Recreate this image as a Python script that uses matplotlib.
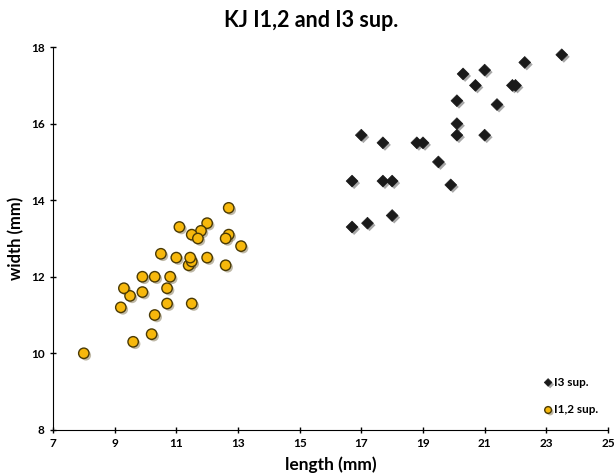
import matplotlib
matplotlib.use('Agg')
import matplotlib.pyplot as plt
import matplotlib.patheffects as pe
import numpy as np

plt.rcParams['font.family'] = ['Lato', 'DejaVu Sans']

# I3 sup. (black diamonds)
i3_len = [16.7, 17.2, 18.0, 16.7, 17.7, 18.0, 19.9, 19.5, 17.0, 17.7, 18.8, 19.0,
          20.1, 21.0, 20.1, 20.1, 21.4, 20.7, 21.9, 22.0, 20.3, 21.0, 22.3, 23.5]
i3_wid = [13.3, 13.4, 13.6, 14.5, 14.5, 14.5, 14.4, 15.0, 15.7, 15.5, 15.5, 15.5,
          15.7, 15.7, 16.0, 16.6, 16.5, 17.0, 17.0, 17.0, 17.3, 17.4, 17.6, 17.8]

# I1,2 sup. (yellow circles)
i12_len = [8.0, 9.6, 10.2, 10.3, 9.2, 10.7, 11.5, 9.5, 9.3, 9.9, 10.7, 9.9, 10.3, 10.8,
           12.6, 11.4, 11.5, 12.7, 11.1, 12.0, 11.8, 11.5, 11.7, 12.7, 12.6, 13.1,
           10.5, 11.0, 11.45, 12.0]
i12_wid = [10.0, 10.3, 10.5, 11.0, 11.2, 11.3, 11.3, 11.5, 11.7, 11.6, 11.7, 12.0, 12.0, 12.0,
           12.3, 12.3, 12.4, 13.8, 13.3, 13.4, 13.2, 13.1, 13.0, 13.1, 13.0, 12.8,
           12.6, 12.5, 12.5, 12.5]

xticks = np.arange(7, 26, 2)
yticks = np.arange(8, 19, 2)

fig = plt.figure(figsize=(6.16, 4.76), dpi=100)
ax = fig.add_axes([0.086, 0.097, 0.901, 0.804])

shadow = [pe.SimplePatchShadow(offset=(1.5, -1.5), alpha=0.35), pe.Normal()]

ax.scatter(i3_len, i3_wid, marker='D', s=36, color='#1a1a1a', edgecolors='#1a1a1a',
           linewidths=0.5, label='I3 sup.', zorder=3, path_effects=shadow)
ax.scatter(i12_len, i12_wid, marker='o', s=56, color='#f7b80c', edgecolors='#4a3a05',
           linewidths=1.0, label='I1,2 sup.', zorder=3, path_effects=shadow)

ax.set_xlim(7, 25)
ax.set_ylim(8, 18)
ax.set_xticks(xticks)
ax.set_yticks(yticks)
for s in ['top', 'right']:
    ax.spines[s].set_visible(False)
ax.tick_params(direction='inout', length=5, width=1, labelsize=8.5)
for lab in ax.get_xticklabels() + ax.get_yticklabels():
    lab.set_fontweight('bold')

ax.set_xlabel('length (mm)', fontsize=12.5, fontweight='bold', labelpad=5)
ax.set_ylabel('width (mm)', fontsize=12, fontweight='bold', labelpad=5)
fig.suptitle('KJ I1,2 and I3 sup.', fontsize=15.5, fontweight='bold', x=0.505, y=0.98)

leg = ax.legend(loc='lower right', bbox_to_anchor=(0.995, 0.02), frameon=False,
                prop={'weight': 'bold', 'size': 8.5}, handletextpad=0.0, handlelength=1.0,
                labelspacing=1.4, markerscale=0.65, borderaxespad=0.2)

plt.savefig('out.png', dpi=100)
